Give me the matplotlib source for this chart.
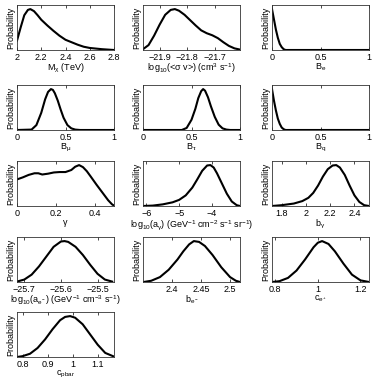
import numpy as np
import matplotlib
matplotlib.use("Agg")
import matplotlib.pyplot as plt

plt.rcParams['font.family'] = ['Liberation Sans', 'DejaVu Sans']
plt.rcParams['mathtext.fontset'] = 'custom'
plt.rcParams['mathtext.rm'] = 'Liberation Sans'
plt.rcParams['mathtext.it'] = 'Liberation Sans'
plt.rcParams['mathtext.sf'] = 'Liberation Sans'
plt.rcParams['axes.unicode_minus'] = True

# ---- marginal posterior curves (peak normalised to 1) ----
mchi_x = [2.0, 2.03, 2.06, 2.09, 2.11, 2.14, 2.17, 2.2, 2.25, 2.3, 2.35, 2.4, 2.45, 2.5, 2.55, 2.6, 2.7, 2.8]
mchi_y = [0.23, 0.55, 0.85, 0.98, 1.0, 0.95, 0.85, 0.74, 0.6, 0.47, 0.35, 0.25, 0.19, 0.13, 0.08, 0.05, 0.02, 0.0]

sv_x = [-21.96, -21.94, -21.92, -21.9, -21.88, -21.86, -21.845, -21.83, -21.81, -21.79, -21.77, -21.75, -21.73, -21.71, -21.69, -21.67, -21.65, -21.63, -21.61]
sv_y = [0.02, 0.12, 0.35, 0.62, 0.86, 0.98, 1.0, 0.96, 0.86, 0.73, 0.6, 0.48, 0.41, 0.36, 0.29, 0.19, 0.1, 0.04, 0.01]

be_x = [0.0, 0.02, 0.04, 0.06, 0.08, 0.1, 0.12, 0.14, 0.2, 1.0]
be_y = [1.0, 0.75, 0.5, 0.3, 0.15, 0.07, 0.02, 0.0, 0.0, 0.0]

bmu_x = [0.0, 0.15, 0.2, 0.25, 0.29, 0.32, 0.35, 0.37, 0.39, 0.42, 0.45, 0.48, 0.52, 0.56, 0.6, 0.65, 1.0]
bmu_y = [0.0, 0.01, 0.12, 0.42, 0.75, 0.93, 1.0, 0.98, 0.9, 0.72, 0.5, 0.3, 0.12, 0.04, 0.01, 0.0, 0.0]

btau_x = [0.0, 0.4, 0.45, 0.5, 0.54, 0.57, 0.6, 0.62, 0.64, 0.67, 0.7, 0.74, 0.78, 0.82, 0.86, 0.9, 1.0]
btau_y = [0.0, 0.0, 0.05, 0.25, 0.52, 0.78, 0.95, 1.0, 0.96, 0.8, 0.58, 0.32, 0.13, 0.04, 0.01, 0.0, 0.0]

bq_x = [0.0, 0.02, 0.04, 0.06, 0.08, 0.1, 0.12, 0.14, 0.2, 1.0]
bq_y = [1.0, 0.72, 0.48, 0.28, 0.15, 0.06, 0.02, 0.0, 0.0, 0.0]

gam_x = [0.0, 0.03, 0.06, 0.09, 0.11, 0.13, 0.16, 0.19, 0.22, 0.25, 0.28, 0.3, 0.32, 0.34, 0.36, 0.38, 0.41, 0.44, 0.47, 0.49, 0.5]
gam_y = [0.65, 0.7, 0.76, 0.8, 0.8, 0.77, 0.79, 0.82, 0.83, 0.83, 0.88, 0.96, 1.0, 0.95, 0.85, 0.72, 0.52, 0.33, 0.14, 0.04, 0.01]

ag_x = [-6.1, -5.8, -5.5, -5.2, -5.0, -4.8, -4.6, -4.45, -4.3, -4.15, -4.05, -3.95, -3.85, -3.7, -3.55, -3.4, -3.25, -3.15]
ag_y = [0.0, 0.01, 0.04, 0.09, 0.15, 0.26, 0.45, 0.65, 0.86, 0.99, 1.0, 0.94, 0.8, 0.55, 0.3, 0.11, 0.02, 0.0]

bg_x = [1.72, 1.8, 1.9, 1.97, 2.02, 2.06, 2.1, 2.14, 2.18, 2.22, 2.25, 2.28, 2.32, 2.36, 2.4, 2.44, 2.48, 2.52]
bg_y = [0.0, 0.02, 0.06, 0.12, 0.2, 0.32, 0.5, 0.72, 0.9, 0.99, 1.0, 0.94, 0.76, 0.5, 0.26, 0.1, 0.02, 0.0]

ae_x = [-25.72, -25.7, -25.68, -25.66, -25.64, -25.62, -25.6, -25.59, -25.58, -25.56, -25.54, -25.52, -25.5, -25.48, -25.46]
ae_y = [0.01, 0.06, 0.18, 0.38, 0.62, 0.86, 0.99, 1.0, 0.98, 0.86, 0.66, 0.42, 0.2, 0.06, 0.01]

bee_x = [2.352, 2.365, 2.38, 2.395, 2.41, 2.42, 2.43, 2.438, 2.447, 2.457, 2.47, 2.485, 2.5, 2.51, 2.517]
bee_y = [0.0, 0.03, 0.12, 0.3, 0.55, 0.75, 0.92, 1.0, 0.98, 0.88, 0.66, 0.36, 0.12, 0.03, 0.0]

ce_x = [0.785, 0.82, 0.86, 0.9, 0.94, 0.98, 1.0, 1.02, 1.05, 1.08, 1.12, 1.16, 1.2, 1.24]
ce_y = [0.0, 0.02, 0.1, 0.28, 0.55, 0.85, 0.96, 1.0, 0.93, 0.75, 0.45, 0.18, 0.04, 0.0]

cp_x = [0.778, 0.8, 0.83, 0.86, 0.89, 0.92, 0.95, 0.97, 0.99, 1.01, 1.04, 1.07, 1.1, 1.13, 1.165]
cp_y = [0.0, 0.02, 0.08, 0.22, 0.43, 0.68, 0.9, 0.98, 1.0, 0.96, 0.8, 0.55, 0.3, 0.1, 0.01]

panels = [
    (mchi_x, mchi_y, (2.0, 2.8), [2, 2.2, 2.4, 2.6, 2.8], ['2', '2.2', '2.4', '2.6', '2.8'],
     r'$\mathregular{M_\chi}$ (TeV)'),
    (sv_x, sv_y, (-21.96, -21.61), [-21.9, -21.8, -21.7], ['\u221221.9', '\u221221.8', '\u221221.7'],
     r'$\mathregular{log_{10}}$(<$\mathregular{\sigma}$ v>) (cm$\mathregular{^3}$ s$\mathregular{^{-1}}$)'),
    (be_x, be_y, (0, 1), [0, 0.5, 1], ['0', '0.5', '1'], r'$\mathregular{B_e}$'),
    (bmu_x, bmu_y, (0, 1), [0, 0.5, 1], ['0', '0.5', '1'], r'$\mathregular{B_\mu}$'),
    (btau_x, btau_y, (0, 1), [0, 0.5, 1], ['0', '0.5', '1'], r'$\mathregular{B_\tau}$'),
    (bq_x, bq_y, (0, 1), [0, 0.5, 1], ['0', '0.5', '1'], r'$\mathregular{B_q}$'),
    (gam_x, gam_y, (0, 0.5), [0, 0.2, 0.4], ['0', '0.2', '0.4'], r'$\mathregular{\gamma}$'),
    (ag_x, ag_y, (-6.1, -3.15), [-6, -5, -4], ['\u22126', '\u22125', '\u22124'],
     r'$\mathregular{log_{10}(a_\gamma)}$ (GeV$\mathregular{^{-1}}$ cm$\mathregular{^{-2}}$ s$\mathregular{^{-1}}$ sr$\mathregular{^{-1}}$)'),
    (bg_x, bg_y, (1.72, 2.52), [1.8, 2.0, 2.2, 2.4], ['1.8', '2', '2.2', '2.4'], r'$\mathregular{b_\gamma}$'),
    (ae_x, ae_y, (-25.72, -25.455), [-25.7, -25.6, -25.5], ['\u221225.7', '\u221225.6', '\u221225.5'],
     r'$\mathregular{log_{10}(a_{e^-})}$ (GeV$\mathregular{^{-1}}$ cm$\mathregular{^{-3}}$ s$\mathregular{^{-1}}$)'),
    (bee_x, bee_y, (2.351, 2.517), [2.4, 2.45, 2.5], ['2.4', '2.45', '2.5'], r'$\mathregular{b_{e^-}}$'),
    (ce_x, ce_y, (0.785, 1.24), [0.8, 1.0, 1.2], ['0.8', '1', '1.2'], r'$\mathregular{c_{e^+}}$'),
    (cp_x, cp_y, (0.778, 1.165), [0.8, 0.9, 1.0, 1.1], ['0.8', '0.9', '1', '1.1'], r'$\mathregular{c_{pbar}}$'),
]

fig = plt.figure(figsize=(3.74, 3.90), dpi=100)

col_left = [17 / 374, 143 / 374, 272 / 374]
ax_w = 97 / 374
row_bottom = [50, 130, 206, 282, 357]
ax_h = 45 / 390

for i, (xs, ys, xlim, ticks, tlabels, xlabel) in enumerate(panels):
    r, c = divmod(i, 3)
    ax = fig.add_axes([col_left[c], 1 - row_bottom[r] / 390, ax_w, ax_h])
    ax.plot(xs, ys, color='black', lw=1.5, solid_joinstyle='round')
    ax.set_xlim(*xlim)
    ax.set_ylim(0, 1.1)
    ax.set_xticks(ticks)
    ax.set_xticklabels(tlabels)
    ax.set_yticks([])
    ax.tick_params(axis='x', direction='in', length=2, width=0.5, top=True,
                   labelsize=6.5, pad=2)
    ax.set_xlabel(xlabel, fontsize=6.5, labelpad=0)
    ax.set_ylabel('Probability', fontsize=6.5, labelpad=1)
    for s in ax.spines.values():
        s.set_linewidth(0.6)
        s.set_color('#333333')

fig.savefig('out.png', dpi=100)
